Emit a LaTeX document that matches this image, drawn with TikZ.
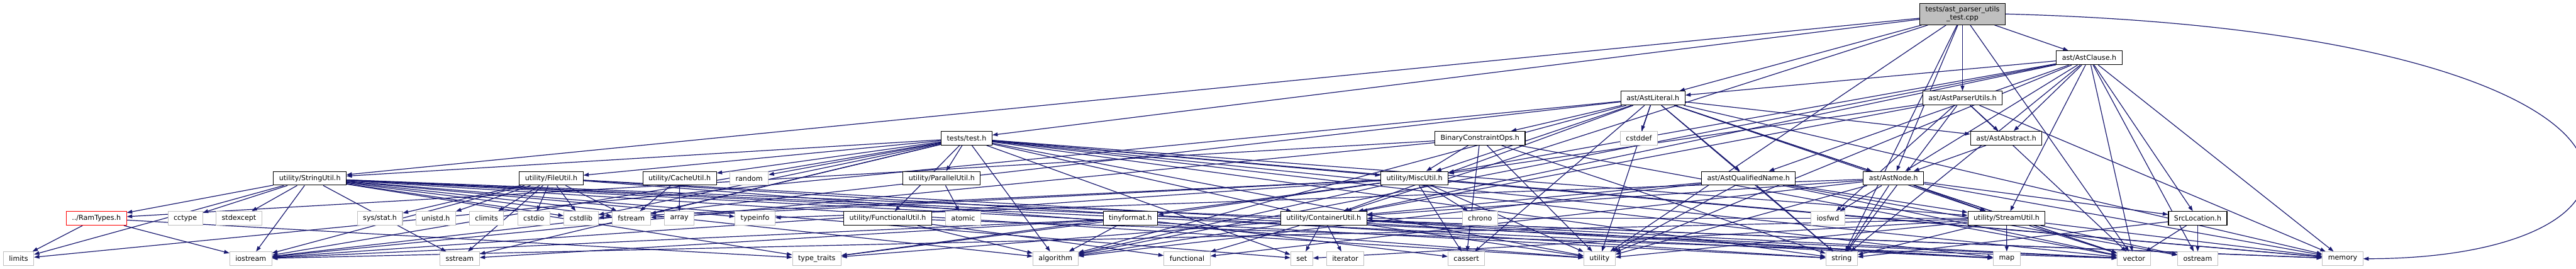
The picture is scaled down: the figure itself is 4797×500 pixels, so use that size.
\documentclass[tikz,border=0pt]{standalone}
\usepackage{fontspec}
\setmainfont{DejaVu Sans}
\usetikzlibrary{positioning}
\usetikzlibrary{arrows.meta}
\usetikzlibrary{backgrounds}

\begin{document}
\begin{tikzpicture}[x=0.01cm, y=-0.01cm,
    hdr/.style={draw=black, fill=white, line width=0.35pt, inner xsep=0.105cm, inner ysep=0pt,
        minimum height=0.255cm, font=\fontsize{3.7}{4.3}\selectfont},
    sys/.style={hdr, draw=boxgray},
    badhdr/.style={hdr, draw=red},
    mainbox/.style={hdr, fill=boxgray, minimum height=0.4cm, align=center},
    inc/.style={draw=edgeblue, line width=0.4pt, -{Triangle[length=0.1cm, width=0.07cm]}}]
    \definecolor{edgeblue}{RGB}{25,25,112}
    \definecolor{boxgray}{RGB}{191,191,191}

    \useasboundingbox (0,0) rectangle (4797,500);

    % top levels
    \node[mainbox] (main) at (3654.5,26) {tests/ast\_parser\_utils\\\_test.cpp};
    \node[hdr] (clause) at (3890.5,107.5) {ast/AstClause.h};
    \node[hdr] (lit) at (3078,182.5) {ast/AstLiteral.h};
    \node[hdr] (apu) at (3654.5,182.5) {ast/AstParserUtils.h};
    \node[hdr] (test) at (1800,257) {tests/test.h};
    \node[hdr] (bco) at (2756,257) {BinaryConstraintOps.h};
    \node[sys] (cstddef) at (3052,257) {cstddef};
    \node[hdr] (abstract) at (3736,257) {ast/AstAbstract.h};

    % utility headers
    \node[hdr] (strutil) at (577,331.5) {utility/StringUtil.h};
    \node[hdr] (fileutil) at (1026.5,331.5) {utility/FileUtil.h};
    \node[hdr] (cacheutil) at (1265.5,331.5) {utility/CacheUtil.h};
    \node[sys] (random) at (1395,331.5) {random};
    \node[hdr] (parutil) at (1753.5,331.5) {utility/ParallelUtil.h};
    \node[hdr] (miscutil) at (2634,331.5) {utility/MiscUtil.h};
    \node[hdr] (qname) at (3256,331.5) {ast/AstQualifiedName.h};
    \node[hdr] (astnode) at (3526,331.5) {ast/AstNode.h};

    \node[badhdr] (ramtypes) at (179.5,406) {../RamTypes.h};
    \node[sys] (cctype) at (345,406) {cctype};
    \node[sys] (stdexcept) at (445,406) {stdexcept};
    \node[sys] (sysstat) at (707.5,406) {sys/stat.h};
    \node[sys] (unistd) at (811.5,406) {unistd.h};
    \node[sys] (climits) at (906,406) {climits};
    \node[sys] (cstdio) at (994,406) {cstdio};
    \node[sys] (cstdlib) at (1082,406) {cstdlib};
    \node[sys] (fstream) at (1175.5,406) {fstream};
    \node[sys] (array) at (1265,406) {array};
    \node[sys] (typeinfo) at (1406,406) {typeinfo};
    \node[hdr] (funcutil) at (1653,406) {utility/FunctionalUtil.h};
    \node[sys] (atomic) at (1793.5,406) {atomic};
    \node[hdr] (tinyfmt) at (2105,406) {tinyformat.h};
    \node[hdr] (contutil) at (2465,406) {utility/ContainerUtil.h};
    \node[sys] (chrono) at (2756,406) {chrono};
    \node[sys] (iosfwd) at (3404,406) {iosfwd};
    \node[hdr] (streamutil) at (3736.5,406) {utility/StreamUtil.h};
    \node[hdr] (srcloc) at (4092.5,406) {SrcLocation.h};

    % standard library
    \node[sys] (limits) at (34.5,481) {limits};
    \node[sys] (iostream) at (467,481) {iostream};
    \node[sys] (sstream) at (856,481) {sstream};
    \node[sys] (typetraits) at (1521,481) {type\_traits};
    \node[sys] (algorithm) at (1965.5,481) {algorithm};
    \node[sys] (functional) at (2210.5,481) {functional};
    \node[sys] (set) at (2424,481) {set};
    \node[sys] (iterator) at (2505,481) {iterator};
    \node[sys] (cassert) at (2730.5,481) {cassert};
    \node[sys] (utility) at (2978.5,481) {utility};
    \node[sys] (string) at (3429.5,481) {string};
    \node[sys] (map) at (3737,481) {map};
    \node[sys] (vector) at (3974,481) {vector};
    \node[sys] (ostream) at (4092.5,481) {ostream};
    \node[sys] (memory) at (4362.5,481) {memory};

    \begin{scope}[on background layer]
        \foreach \t in {test,strutil,contutil,lit,apu,clause,astnode,utility,vector,string}
            \draw[inc] (main) -- (\t);
        \draw[inc] (main.east) .. controls (5030,60) and (5030,480) .. (memory.east);
        \foreach \t in {abstract,lit,astnode,qname,streamutil,miscutil,contutil,srcloc,algorithm,memory,ostream,string,vector,utility}
            \draw[inc] (clause) -- (\t);
        \foreach \t in {bco,cstddef,abstract,astnode,qname,miscutil,contutil,streamutil,cassert,utility,string,vector,memory,iostream,algorithm,limits}
            \draw[inc] (lit) -- (\t);
        \foreach \t in {abstract,iosfwd,contutil,miscutil,memory,vector,string}
            \draw[inc] (apu) -- (\t);
        \draw[inc] (abstract) -- (astnode);
        \foreach \t in {strutil,fileutil,cacheutil,random,parutil,funcutil,miscutil,contutil,streamutil,algorithm,iostream,sstream,cstdlib,fstream,string,vector,memory,utility,set,map}
            \draw[inc] (test) -- (\t);
        \foreach \t in {miscutil,ramtypes,cassert,iostream,string,vector,utility}
            \draw[inc] (bco) -- (\t);
        \foreach \t in {ramtypes,cctype,stdexcept,limits,iostream,sstream,algorithm,fstream,string,vector,typeinfo,typetraits,utility,cstdlib,map,set,memory}
            \draw[inc] (strutil) -- (\t);
        \foreach \t in {limits,iostream,typetraits}
            \draw[inc] (ramtypes) -- (\t);
        \foreach \t in {sysstat,unistd,climits,cstdio,cstdlib,fstream,string,iostream,sstream,map,utility}
            \draw[inc] (fileutil) -- (\t);
        \foreach \t in {fstream,array}
            \draw[inc] (cacheutil) -- (\t);
        \draw[inc] (parutil) -- (atomic);
        \foreach \t in {algorithm,functional,vector}
            \draw[inc] (funcutil) -- (\t);
        \foreach \t in {tinyfmt,chrono,cassert,utility,algorithm,iostream,typetraits,memory,cstdlib,fstream}
            \draw[inc] (miscutil) -- (\t);
        \foreach \t in {algorithm,iostream,sstream,cassert,typetraits}
            \draw[inc] (tinyfmt) -- (\t);
        \foreach \t in {set,iterator,algorithm,functional,map,memory,utility,vector,typetraits}
            \draw[inc] (contutil) -- (\t);
        \foreach \t in {contutil,map,vector,ostream,string,set,iostream,memory,utility}
            \draw[inc] (streamutil) -- (\t);
        \foreach \t in {ostream,string,vector}
            \draw[inc] (srcloc) -- (\t);
        \foreach \t in {streamutil,contutil,algorithm,string,vector,ostream,utility}
            \draw[inc] (qname) -- (\t);
        \foreach \t in {iosfwd,string,contutil,streamutil,srcloc,memory,vector,utility,typeinfo,functional}
            \draw[inc] (astnode) -- (\t);
    \end{scope}
\end{tikzpicture}
\end{document}
